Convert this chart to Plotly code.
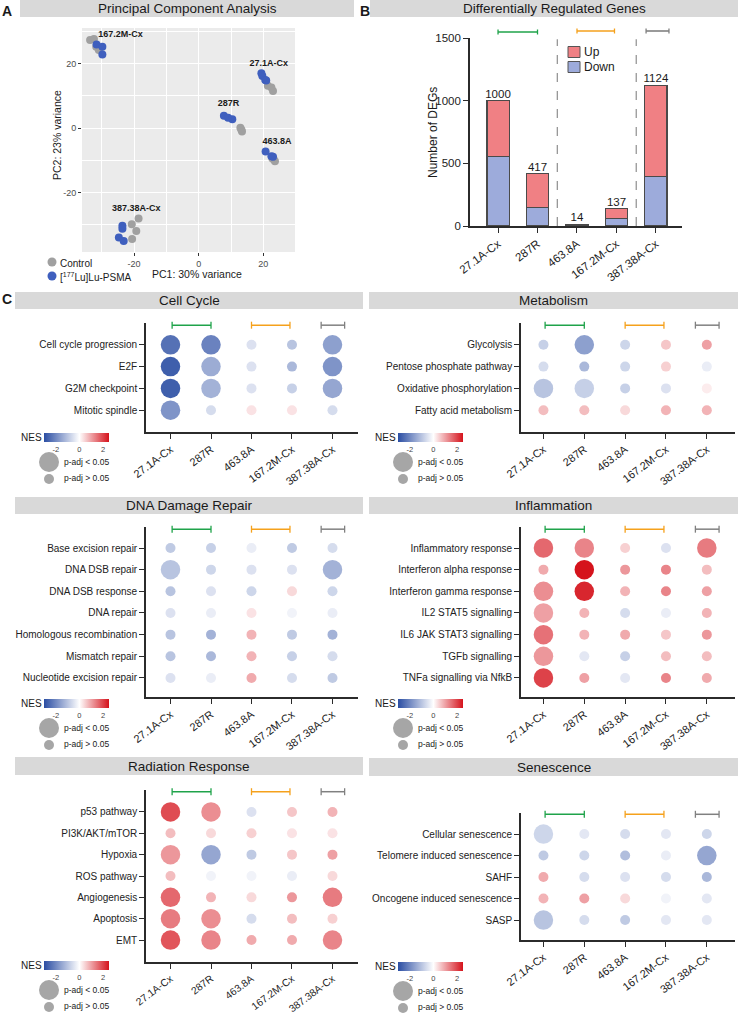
import plotly.graph_objects as go

W, H = 738, 1015
FONT = "Arial, 'Liberation Sans', sans-serif"

# ------------------------------------------------------------------ data
cell_lines = ["27.1A-Cx", "287R", "463.8A", "167.2M-Cx", "387.38A-Cx"]

# PCA scores
ctrl_pc1 = [-33.6, -32.4, -31.7, -30.9, 21.4, 22.5, 23.0, 12.9, 13.4, 13.2, 23.2, 23.6, 22.8, -20.7, -18.6, -19.3, -20.6]
ctrl_pc2 = [27.3, 27.6, 25.2, 24.2, 13.1, 12.6, 11.5, 0.1, -1.1, -0.5, -9.7, -10.3, -9.4, -29.8, -28.0, -31.9, -34.4]
lu_pc1 = [-31.6, -29.8, -29.8, 19.4, 19.7, 20.6, 20.9, 7.8, 9.1, 10.4, 20.7, 22.5, 23.0, -23.6, -23.6, -24.7, -23.2]
lu_pc2 = [25.9, 25.2, 22.8, 17.0, 16.1, 14.9, 14.7, 3.8, 3.2, 2.7, -7.3, -8.7, -8.9, -30.3, -31.2, -33.9, -35.0]
pca_label_text = ["167.2M-Cx", "27.1A-Cx", "287R", "463.8A", "387.38A-Cx"]
pca_label_pc1 = [-24.2, 21.7, 9.2, 24.2, -19.3]
pca_label_pc2 = [29.0, 20.0, 7.4, -4.2, -24.9]

# Differentially expressed genes
deg_down = [555, 150, 7, 62, 395]
deg_up = [445, 267, 7, 75, 729]
deg_total = [1000, 417, 14, 137, 1124]

# GSEA dot plots: NES and significance (1 = p-adj < 0.05)
cc_rows = ["Cell cycle progression", "E2F", "G2M checkpoint", "Mitotic spindle"]
cc_nes = [[-2.4, -2.1, -0.5, -1.0, -1.6],
          [-2.7, -1.4, -0.5, -1.2, -1.8],
          [-2.7, -1.3, -0.5, -0.8, -1.5],
          [-1.8, -0.6, 0.3, 0.3, -0.6]]
cc_sig = [[1, 1, 0, 0, 1], [1, 1, 0, 0, 1], [1, 1, 0, 0, 1], [1, 0, 0, 0, 0]]

met_rows = ["Glycolysis", "Pentose phosphate pathway", "Oxidative phosphorylation", "Fatty acid metabolism"]
met_nes = [[-0.8, -1.6, -0.7, 0.6, 1.0],
           [-0.6, -1.2, -0.7, 0.5, -0.3],
           [-1.0, -0.8, -0.8, -0.5, 0.2],
           [0.7, 0.7, 0.4, 0.8, 0.8]]
met_sig = [[0, 1, 0, 0, 0], [0, 0, 0, 0, 0], [1, 1, 0, 0, 0], [0, 0, 0, 0, 0]]

dna_rows = ["Base excision repair", "DNA DSB repair", "DNA DSB response", "DNA repair",
            "Homologous recombination", "Mismatch repair", "Nucleotide excision repair"]
dna_nes = [[-0.9, -0.8, -0.3, -0.9, -0.6],
           [-1.0, -0.7, -0.5, -0.5, -1.3],
           [-1.0, -0.5, -0.7, 0.4, -0.7],
           [-0.5, -0.3, 0.3, -0.2, -0.3],
           [-1.0, -1.3, 0.8, -0.9, -1.3],
           [-1.0, -1.2, 0.8, -0.8, -0.6],
           [-0.5, -0.3, 0.9, -0.6, -0.9]]
dna_sig = [[0, 0, 0, 0, 0], [1, 0, 0, 0, 1], [0, 0, 0, 0, 0], [0, 0, 0, 0, 0],
           [0, 0, 0, 0, 0], [0, 0, 0, 0, 0], [0, 0, 0, 0, 0]]

inf_rows = ["Inflammatory response", "Interferon alpha response", "Interferon gamma response",
            "IL2 STAT5 signalling", "IL6 JAK STAT3 signalling", "TGFb signalling", "TNFa signalling via NfkB"]
inf_nes = [[1.6, 1.3, 0.5, -0.5, 1.4],
           [0.9, 2.5, 1.1, 1.3, 0.7],
           [1.2, 2.3, 0.8, 1.3, 1.0],
           [1.0, 0.8, -0.6, -0.3, 0.8],
           [1.5, 0.8, 0.9, 0.6, 1.1],
           [1.1, -0.4, -0.8, 0.7, 0.7],
           [2.0, 1.0, -0.4, 1.3, 0.9]]
inf_sig = [[1, 1, 0, 0, 1], [0, 1, 0, 0, 0], [1, 1, 0, 0, 0], [1, 0, 0, 0, 0],
           [1, 0, 0, 0, 0], [1, 0, 0, 0, 0], [1, 0, 0, 0, 0]]

rad_rows = ["p53 pathway", "PI3K/AKT/mTOR", "Hypoxia", "ROS pathway", "Angiogenesis", "Apoptosis", "EMT"]
rad_nes = [[1.9, 1.2, -0.5, 0.6, 0.8],
           [0.7, 0.4, 0.5, 0.3, 0.3],
           [1.1, -1.5, -0.9, 0.6, 1.0],
           [0.7, -0.2, -0.2, -0.3, 0.4],
           [1.6, 0.8, 0.4, 1.1, 1.4],
           [1.4, 1.2, -0.6, 0.7, 0.5],
           [1.8, 1.3, 0.9, 0.9, 1.3]]
rad_sig = [[1, 1, 0, 0, 0], [0, 0, 0, 0, 0], [1, 1, 0, 0, 0], [0, 0, 0, 0, 0],
           [1, 0, 0, 0, 1], [1, 1, 0, 0, 0], [1, 1, 0, 0, 1]]

sen_rows = ["Cellular senescence", "Telomere induced senescence", "SAHF", "Oncogene induced senescence", "SASP"]
sen_nes = [[-0.7, -0.4, -0.6, -0.4, -0.7],
           [-0.9, -0.7, -1.1, -0.3, -1.5],
           [0.9, -0.6, -0.5, -0.6, -1.2],
           [0.8, 1.0, 0.4, -0.2, -0.4],
           [-1.0, -0.6, -0.9, -0.4, -0.4]]
sen_sig = [[1, 0, 0, 0, 0], [0, 0, 0, 0, 1], [0, 0, 0, 0, 0], [0, 0, 0, 0, 0], [1, 0, 0, 0, 0]]

nes_ticks = [-2, 0, 2]
nes_tick_text = ["-2", "0", "2"]

# ------------------------------------------------------------------ helpers
def fx(p):
    return p / W


def fy(p):
    return 1 - p / H


shapes = []
annotations = []
layout = dict(width=W, height=H, margin=dict(l=0, r=0, t=0, b=0, autoexpand=False),
              paper_bgcolor="white", plot_bgcolor="rgba(0,0,0,0)",
              showlegend=False, barmode="stack",
              font=dict(family=FONT, color="#1a1a1a"))
fig = go.Figure()

AX = "#2b2b2b"
GREEN, ORANGE, GREY = "#1FA34A", "#F5A11C", "#808080"
CSCALE = [[0, "#2A4DA3"], [0.545, "#FFFFFF"], [1, "#D5131C"]]


def title_bar(x0, x1, y0, y1, text):
    shapes.append(dict(type="rect", xref="paper", yref="paper", x0=fx(x0), x1=fx(x1),
                       y0=fy(y1), y1=fy(y0), fillcolor="#D9D9D9", line=dict(width=0), layer="below"))
    annotations.append(dict(xref="paper", yref="paper", x=fx((x0 + x1) / 2), y=fy((y0 + y1) / 2),
                            text=text, showarrow=False, xanchor="center", yanchor="middle",
                            font=dict(size=13.5, color="#1a1a1a")))


def txt(x, y, text, size=10, xanchor="left", bold=False, angle=0, color="#1a1a1a"):
    annotations.append(dict(xref="paper", yref="paper", x=fx(x), y=fy(y),
                            text=("<b>%s</b>" % text) if bold else text, showarrow=False,
                            xanchor=xanchor, yanchor="middle", textangle=angle,
                            font=dict(size=size, color=color, family=FONT)))


def circ(cx, cy, d, color):
    r = d / 2
    shapes.append(dict(type="circle", xref="paper", yref="paper", xsizemode="pixel", ysizemode="pixel",
                       xanchor=fx(cx), yanchor=fy(cy), x0=-r, x1=r, y0=-r, y1=r,
                       fillcolor=color, line=dict(width=0)))


# panel letters
txt(7, 11, "A", size=14, xanchor="center", bold=True)
txt(365, 11, "B", size=14, xanchor="center", bold=True)
txt(7, 299, "C", size=14, xanchor="center", bold=True)

# ------------------------------------------------------------------ A: PCA
title_bar(20, 354, 0, 17, "Principal Component Analysis")
layout["xaxis"] = dict(domain=[fx(82), fx(295)], range=[-36.1, 29.8], anchor="y",
                       showline=False, zeroline=False, showgrid=True, gridcolor="white", gridwidth=1.3,
                       tickvals=[-20, 0, 20], ticktext=["-20", "0", "20"], ticks="outside", ticklen=3,
                       tickcolor="#333", tickfont=dict(size=9, color="#4d4d4d"),
                       minor=dict(tickvals=[-30, -10, 10], showgrid=True, gridcolor="white", gridwidth=0.6))
layout["yaxis"] = dict(domain=[fy(252), fy(28)], range=[-38.4, 31.0], anchor="x",
                       showline=False, zeroline=False, showgrid=True, gridcolor="white", gridwidth=1.3,
                       tickvals=[-20, 0, 20], ticktext=["-20", "0", "20"], ticks="outside", ticklen=3,
                       tickcolor="#333", tickfont=dict(size=9, color="#4d4d4d"),
                       minor=dict(tickvals=[-30, -10, 10, 30], showgrid=True, gridcolor="white", gridwidth=0.6))
shapes.append(dict(type="rect", xref="x domain", yref="y domain", x0=0, x1=1, y0=0, y1=1,
                   fillcolor="#EBEBEB", line=dict(width=0), layer="below"))
fig.add_trace(go.Scatter(x=ctrl_pc1, y=ctrl_pc2, mode="markers", xaxis="x", yaxis="y",
                         marker=dict(size=8, color="#A0A0A0", line=dict(width=0))))
fig.add_trace(go.Scatter(x=lu_pc1, y=lu_pc2, mode="markers", xaxis="x", yaxis="y",
                         marker=dict(size=8, color="#3F5FBE", line=dict(width=0))))
fig.add_trace(go.Scatter(x=pca_label_pc1, y=pca_label_pc2, mode="text", xaxis="x", yaxis="y",
                         text=["<b>%s</b>" % t for t in pca_label_text], textposition="middle center",
                         textfont=dict(size=9, color="#1a1a1a"), cliponaxis=False))
txt(197, 274, "PC1: 30% variance", size=10.5, xanchor="center")
annotations.append(dict(xref="paper", yref="paper", x=fx(57), y=fy(135), text="PC2: 23% variance",
                        showarrow=False, textangle=-90, xanchor="center", yanchor="middle",
                        font=dict(size=10.5, color="#1a1a1a")))
circ(52, 262, 9, "#A0A0A0")
circ(52, 276, 9, "#3F5FBE")
txt(58, 263, "Control", size=10)
txt(58, 277, "[<sup>177</sup>Lu]Lu-PSMA", size=10)

# ------------------------------------------------------------------ B: DEG bars
title_bar(370, 738, 0, 17, "Differentially Regulated Genes")
layout["xaxis2"] = dict(domain=[fx(470), fx(682)], range=[-0.71, 4.66], anchor="y2", type="category",
                        categoryorder="array", categoryarray=cell_lines, showline=True, linecolor=AX,
                        linewidth=1.6, ticks="outside", ticklen=5, tickwidth=1.3, tickcolor=AX,
                        tickangle=-37, tickfont=dict(size=11.5, color="#222"), showgrid=False, zeroline=False)
layout["yaxis2"] = dict(domain=[fy(226), fy(38)], range=[0, 1500], anchor="x2", tickvals=[0, 500, 1000, 1500],
                        showline=True, linecolor=AX, linewidth=1.6, ticks="outside", ticklen=5, tickwidth=1.3,
                        tickcolor=AX, tickfont=dict(size=11.5, color="#222"), showgrid=False, zeroline=False)
fig.add_trace(go.Bar(x=cell_lines, y=deg_down, width=0.56, xaxis="x2", yaxis="y2", name="Down",
                     marker=dict(color="#9DABDB", line=dict(color="#4a4a4a", width=1.1))))
fig.add_trace(go.Bar(x=cell_lines, y=deg_up, width=0.56, xaxis="x2", yaxis="y2", name="Up",
                     marker=dict(color="#F08084", line=dict(color="#4a4a4a", width=1.1))))
fig.add_trace(go.Scatter(x=cell_lines, y=deg_total, mode="text", text=[str(v) for v in deg_total],
                         textposition="top center", textfont=dict(size=11.5, color="#1a1a1a"),
                         xaxis="x2", yaxis="y2", cliponaxis=False))
for xd in (1.5, 3.5):
    shapes.append(dict(type="line", xref="x2", yref="y2", x0=xd, x1=xd, y0=0, y1=1490,
                       line=dict(color="#777", width=1, dash="dash")))
for (a, b, c, yp) in ((0, 1, GREEN, 32), (2, 2.95, ORANGE, 31), (3.75, 4.33, GREY, 31)):
    shapes.append(dict(type="line", xref="x2", yref="paper", x0=a, x1=b, y0=fy(yp), y1=fy(yp),
                       line=dict(color=c, width=1.6)))
    for xe in (a, b):
        shapes.append(dict(type="line", xref="x2", yref="paper", x0=xe, x1=xe, y0=fy(yp - 2.5),
                           y1=fy(yp + 2.5), line=dict(color=c, width=1.3)))
for (yy, col, lab) in ((52, "#F08084", "Up"), (67, "#9DABDB", "Down")):
    shapes.append(dict(type="rect", xref="paper", yref="paper", x0=fx(568), x1=fx(580),
                       y0=fy(yy + 5.5), y1=fy(yy - 5.5), fillcolor=col, line=dict(color="#555", width=1)))
    txt(582, yy, lab, size=12)
annotations.append(dict(xref="paper", yref="paper", x=fx(433), y=fy(133), text="Number of DEGs",
                        showarrow=False, textangle=-90, xanchor="center", yanchor="middle",
                        font=dict(size=12, color="#1a1a1a")))

# ------------------------------------------------------------------ C: dot plots
panels = [
    dict(title="Cell Cycle", rows=cc_rows, nes=cc_nes, sig=cc_sig),
    dict(title="Metabolism", rows=met_rows, nes=met_nes, sig=met_sig),
    dict(title="DNA Damage Repair", rows=dna_rows, nes=dna_nes, sig=dna_sig),
    dict(title="Inflammation", rows=inf_rows, nes=inf_nes, sig=inf_sig),
    dict(title="Radiation Response", rows=rad_rows, nes=rad_nes, sig=rad_sig),
    dict(title="Senescence", rows=sen_rows, nes=sen_nes, sig=sen_sig),
]
# geometry (pixels): x-domain, x-range, y-domain (top,bottom), y-range, title bar, bracket y, legend, tick font
geo = [
    dict(xd=(146, 358), xr=(-0.605, 4.63), yd=(323, 432), yr=(4.0, -1.0), bar=(15, 363, 292, 309), by=-0.9, left=True, cb=433, tf=11),
    dict(xd=(521, 735), xr=(-0.55, 4.69), yd=(323, 432), yr=(4.0, -1.0), bar=(369, 738, 292, 309), by=-0.9, left=False, cb=433, tf=11),
    dict(xd=(146, 358), xr=(-0.605, 4.63), yd=(527, 697), yr=(6.88, -0.97), bar=(15, 363, 497, 514), by=-0.87, left=True, cb=699, tf=11),
    dict(xd=(521, 735), xr=(-0.55, 4.69), yd=(527, 697), yr=(6.88, -0.97), bar=(369, 738, 497, 514), by=-0.87, left=False, cb=699, tf=11),
    dict(xd=(146, 358), xr=(-0.605, 4.63), yd=(790, 962), yr=(7.03, -1.03), bar=(15, 363, 757, 775), by=-0.95, left=True, cb=961, tf=10.3),
    dict(xd=(521, 735), xr=(-0.55, 4.69), yd=(813, 940), yr=(4.93, -0.98), bar=(369, 738, 758, 776), by=-0.92, left=False, cb=962, tf=11),
]

for i, (p, g) in enumerate(zip(panels, geo)):
    k = i + 3
    ca = "coloraxis" if i == 0 else "coloraxis%d" % (i + 1)
    n = len(p["rows"])
    title_bar(g["bar"][0], g["bar"][1], g["bar"][2], g["bar"][3], p["title"])
    layout["xaxis%d" % k] = dict(domain=[fx(g["xd"][0]), fx(g["xd"][1])], range=list(g["xr"]), anchor="y%d" % k,
                                 tickvals=list(range(len(cell_lines))), ticktext=cell_lines, tickangle=-37,
                                 showline=True, linecolor=AX, linewidth=1.6, ticks="outside", ticklen=5,
                                 tickwidth=1.3, tickcolor=AX, tickfont=dict(size=g["tf"], color="#222"),
                                 showgrid=False, zeroline=False)
    layout["yaxis%d" % k] = dict(domain=[fy(g["yd"][1]), fy(g["yd"][0])], range=list(g["yr"]), anchor="x%d" % k,
                                 tickvals=list(range(n)), ticktext=p["rows"],
                                 showline=True, linecolor=AX, linewidth=1.6, ticks="outside", ticklen=5,
                                 tickwidth=1.3, tickcolor=AX, tickfont=dict(size=10, color="#222"),
                                 showgrid=False, zeroline=False)
    xs, ys, cs, ss = [], [], [], []
    for r in range(n):
        for c in range(len(cell_lines)):
            xs.append(c)
            ys.append(r)
            cs.append(p["nes"][r][c])
            ss.append(19.5 if p["sig"][r][c] else 10)
    fig.add_trace(go.Scatter(x=xs, y=ys, mode="markers", xaxis="x%d" % k, yaxis="y%d" % k, cliponaxis=False,
                             marker=dict(size=ss, color=cs, coloraxis=ca, line=dict(width=0), opacity=1)))
    for (a, b, col) in ((0.04, 1.0, GREEN), (2.0, 2.95, ORANGE), (3.72, 4.3, GREY)):
        fig.add_trace(go.Scatter(x=[a, b], y=[g["by"], g["by"]], mode="lines+markers",
                                 xaxis="x%d" % k, yaxis="y%d" % k, cliponaxis=False,
                                 line=dict(color=col, width=1.5),
                                 marker=dict(symbol="line-ns", size=5, line=dict(color=col, width=1.3))))
    # legend block
    if g["left"]:
        nes_x, cb_x, cx, tx = 31, 44, 49, 62
    else:
        nes_x, cb_x, cx, tx = 385, 398, 403, 416
    cbt = g["cb"]
    layout[ca] = dict(cmin=-3, cmax=2.5, colorscale=CSCALE,
                      colorbar=dict(orientation="h", x=fx(cb_x), xanchor="left", y=fy(cbt), yanchor="top",
                                    len=65, lenmode="pixels", thickness=9, thicknessmode="pixels",
                                    outlinewidth=0, tickvals=nes_ticks, ticktext=nes_tick_text,
                                    ticks="", xpad=0, ypad=0,
                                    tickfont=dict(size=7.5, color="#444")))
    txt(nes_x, cbt + 4.5, "NES", size=10, xanchor="center")
    circ(cx, cbt + 29, 20, "#A6A6A6")
    circ(cx, cbt + 46, 10, "#A6A6A6")
    txt(tx, cbt + 29, "p-adj &lt; 0.05", size=8.5)
    txt(tx, cbt + 45, "p-adj &gt; 0.05", size=8.5)

layout["shapes"] = shapes
layout["annotations"] = annotations
fig.update_layout(**layout)
fig.write_html("out.html")
